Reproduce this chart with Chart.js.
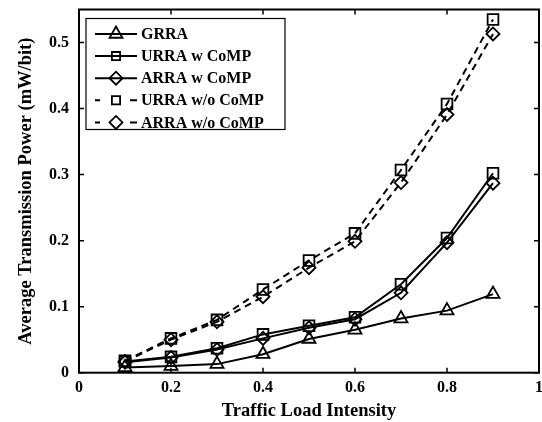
<!DOCTYPE html>
<html>
<head>
<meta charset="utf-8">
<script src="https://cdn.jsdelivr.net/npm/chart.js@4/dist/chart.umd.min.js"></script>
<style>
  html, body { margin: 0; padding: 0; background: #fff; }
  #wrap { width: 542px; height: 422px; }
</style>
</head>
<body>
<div id="wrap"><canvas id="myChart" width="542" height="422"></canvas></div>
<script>
// traffic load intensity (x)
const loads = [0.1, 0.2, 0.3, 0.4, 0.5, 0.6, 0.7, 0.8, 0.9];

// average transmission power (mW/bit)
const grra       = [0.008, 0.010, 0.013, 0.028, 0.051, 0.065, 0.082, 0.094, 0.119];
const urraComp   = [0.017, 0.024, 0.037, 0.058, 0.071, 0.084, 0.134, 0.204, 0.302];
const arraComp   = [0.016, 0.023, 0.035, 0.052, 0.068, 0.081, 0.121, 0.197, 0.287];
const urraNoComp = [0.018, 0.052, 0.080, 0.126, 0.170, 0.211, 0.307, 0.407, 0.535];
const arraNoComp = [0.017, 0.050, 0.077, 0.115, 0.159, 0.199, 0.288, 0.391, 0.513];

const xTicks = [0, 0.2, 0.4, 0.6, 0.8, 1];
const yTicks = [0, 0.1, 0.2, 0.3, 0.4, 0.5];

const serif = '"Liberation Serif", "DejaVu Serif", serif';
const dash = [7, 5];

function pts(ys) {
    return loads.map((x, i) => ({ x: x, y: ys[i] }));
}

function series(label, ys, style, radius, dashed) {
    return {
        label: label,
        data: pts(ys),
        borderColor: '#000',
        borderWidth: 2,
        borderDash: dashed ? dash : [],
        pointStyle: style,
        pointRadius: radius,
        pointBorderColor: '#000',
        pointBackgroundColor: 'rgba(0,0,0,0)',
        pointBorderWidth: 1.8,
        fill: false,
        tension: 0,
        clip: false
    };
}

const datasets = [
    series('GRRA', grra, 'triangle', 7.5, false),
    series('URRA w CoMP', urraComp, 'rect', 7.6, false),
    series('ARRA w CoMP', arraComp, 'rectRot', 6.5, false),
    series('URRA w/o CoMP', urraNoComp, 'rect', 7.6, true),
    series('ARRA w/o CoMP', arraNoComp, 'rectRot', 6.5, true)
];

function marker(ctx, style, r, x, y) {
    if (Chart.helpers && Chart.helpers.drawPoint) {
        Chart.helpers.drawPoint(ctx, { pointStyle: style, radius: r, borderWidth: 1.8, rotation: 0 }, x, y);
        return;
    }
    ctx.beginPath();
    if (style === 'triangle') {
        ctx.moveTo(x, y - r);
        ctx.lineTo(x + r * 0.866, y + r / 2);
        ctx.lineTo(x - r * 0.866, y + r / 2);
    } else if (style === 'rect') {
        const s = r * Math.SQRT1_2;
        ctx.rect(x - s, y - s, 2 * s, 2 * s);
    } else {
        ctx.moveTo(x, y - r);
        ctx.lineTo(x + r, y);
        ctx.lineTo(x, y + r);
        ctx.lineTo(x - r, y);
    }
    ctx.closePath();
    ctx.stroke();
}

// box round the axes, inward ticks on all four sides
const framePlugin = {
    id: 'frame',
    afterDatasetsDraw(chart) {
        const ctx = chart.ctx;
        const a = chart.chartArea;
        const xs = chart.scales.x, ys = chart.scales.y;
        const tl = 5;
        ctx.save();
        ctx.strokeStyle = '#000';
        ctx.lineWidth = 1.5;
        ctx.beginPath();
        xTicks.forEach(v => {
            const px = xs.getPixelForValue(v);
            ctx.moveTo(px, a.bottom); ctx.lineTo(px, a.bottom - tl);
            ctx.moveTo(px, a.top); ctx.lineTo(px, a.top + tl);
        });
        yTicks.forEach(v => {
            const py = ys.getPixelForValue(v);
            ctx.moveTo(a.left, py); ctx.lineTo(a.left + tl, py);
            ctx.moveTo(a.right, py); ctx.lineTo(a.right - tl, py);
        });
        ctx.stroke();
        ctx.lineWidth = 2;
        ctx.strokeRect(a.left, a.top, a.right - a.left, a.bottom - a.top);
        ctx.restore();
    }
};

// matlab style legend box in the upper left corner
const legendPlugin = {
    id: 'matlabLegend',
    afterDraw(chart) {
        const ctx = chart.ctx;
        const a = chart.chartArea;
        const bx = a.left + 7, by = a.top + 9;
        const bw = 199, bh = 111;
        ctx.save();
        ctx.fillStyle = '#fff';
        ctx.fillRect(bx, by, bw, bh);
        ctx.strokeStyle = '#000';
        ctx.lineWidth = 1.2;
        ctx.strokeRect(bx, by, bw, bh);

        ctx.font = 'bold 16px ' + serif;
        ctx.textBaseline = 'middle';
        ctx.textAlign = 'left';
        datasets.forEach((ds, i) => {
            const y = by + 15.5 + i * 22.1;
            const x0 = bx + 9, x1 = bx + 51, xm = bx + 30;
            ctx.strokeStyle = '#000';
            ctx.lineWidth = 2;
            ctx.setLineDash([]);
            ctx.beginPath();
            if (ds.borderDash.length) {
                ctx.moveTo(x0, y); ctx.lineTo(x0 + 5, y);
                ctx.moveTo(x1 - 7, y); ctx.lineTo(x1, y);
            } else {
                ctx.moveTo(x0, y); ctx.lineTo(x1, y);
            }
            ctx.stroke();
            ctx.lineWidth = 1.8;
            ctx.fillStyle = 'rgba(0,0,0,0)';
            const r = ds.pointStyle === 'rect' ? 5.8 : ds.pointRadius;
            marker(ctx, ds.pointStyle, r, xm, y);
            ctx.fillStyle = '#000';
            ctx.fillText(ds.label, bx + 55, y + 1);
        });
        ctx.restore();
    }
};

new Chart(document.getElementById('myChart'), {
    type: 'line',
    data: { datasets: datasets },
    options: {
        responsive: false,
        animation: false,
        devicePixelRatio: 1,
        layout: { autoPadding: false, padding: { top: 9.5, right: 3, left: 0, bottom: 0 } },
        plugins: { legend: { display: false }, tooltip: { enabled: false } },
        scales: {
            x: {
                type: 'linear',
                min: 0, max: 1,
                afterBuildTicks: s => { s.ticks = xTicks.map(v => ({ value: v })); },
                afterFit: s => { s.height = 49.3; s.paddingLeft = 0; s.paddingRight = 0; },
                grid: { display: false, drawTicks: false },
                border: { display: false },
                ticks: {
                    padding: 6,
                    color: '#000',
                    font: { family: serif, size: 16, weight: 'bold' },
                    maxRotation: 0,
                    callback: v => String(v)
                },
                title: {
                    display: true,
                    text: 'Traffic Load Intensity',
                    color: '#000',
                    padding: 0,
                    font: { family: serif, size: 18.5, weight: 'bold' }
                }
            },
            y: {
                type: 'linear',
                min: 0, max: 0.55,
                afterBuildTicks: s => { s.ticks = yTicks.map(v => ({ value: v })); },
                afterFit: s => { s.width = 79; s.paddingTop = 0; s.paddingBottom = 0; },
                grid: { display: false, drawTicks: false },
                border: { display: false },
                ticks: {
                    padding: 10,
                    color: '#000',
                    font: { family: serif, size: 16, weight: 'bold' },
                    callback: v => String(Math.round(v * 10) / 10)
                },
                title: {
                    display: true,
                    text: 'Average Transmission Power (mW/bit)',
                    color: '#000',
                    padding: { top: 15, bottom: 0 },
                    font: { family: serif, size: 18.5, weight: 'bold' }
                }
            }
        }
    },
    plugins: [framePlugin, legendPlugin]
});
</script>
</body>
</html>
